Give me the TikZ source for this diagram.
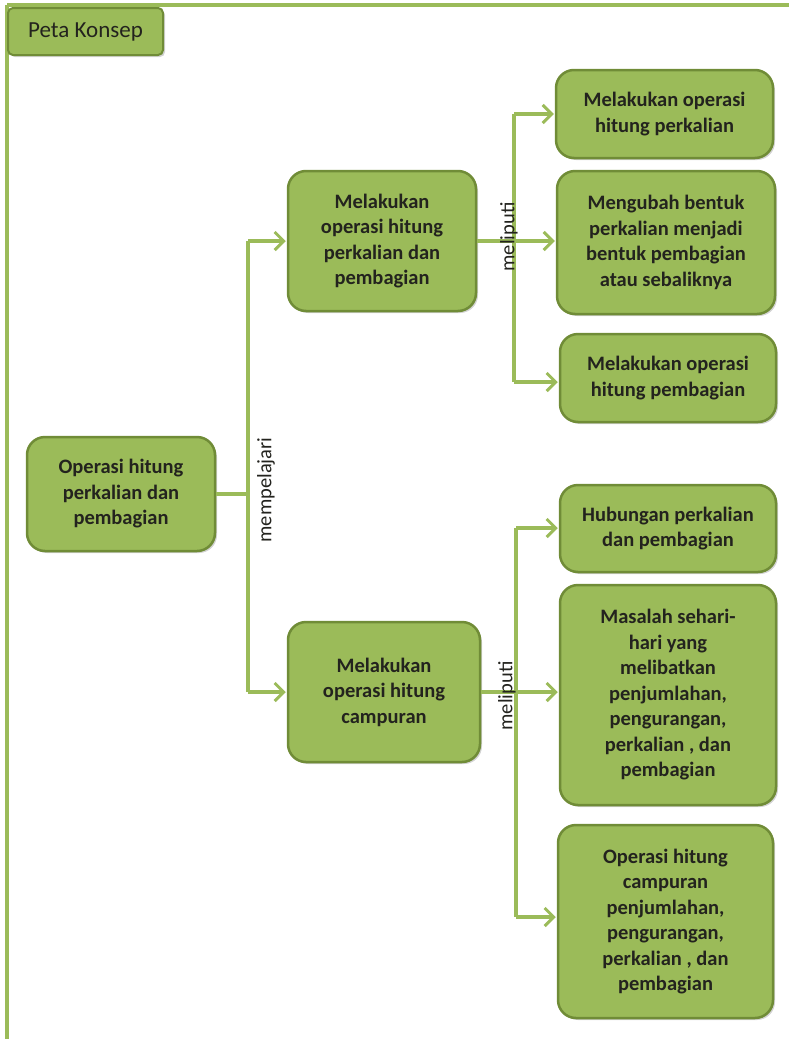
\documentclass[tikz,border=0pt]{standalone}
\usepackage{fontspec}
\setmainfont{Carlito}
\usetikzlibrary{arrows.meta, shadows}
\definecolor{konsepgreen}{RGB}{155,187,89}
\definecolor{konsepdark}{RGB}{112,140,55}
\definecolor{konseptext}{RGB}{35,35,30}
\tikzset{
  konsepbox/.style={rectangle, rounded corners=18pt, fill=konsepgreen, draw=konsepdark, line width=2.5pt,
    drop shadow={shadow xshift=2pt, shadow yshift=-2pt, opacity=0.35}, align=center,
    font=\fontsize{20.5}{25.5}\selectfont\bfseries, text=konseptext, inner sep=0pt},
  konsepline/.style={draw=konsepgreen, line width=4pt},
  konseparrow/.style={konsepline, -{Straight Barb[length=9pt, width=18pt, line width=3pt]}, shorten >=1pt},
  konseplabel/.style={rotate=90, font=\fontsize{20.5}{24}\selectfont, text=konseptext, inner sep=0pt}
}
\begin{document}
\begin{tikzpicture}[x=1pt, y=-1pt]
        \useasboundingbox (0,0) rectangle (789,1039);
        % Frame
        \draw[konsepline] (7,5) -- (789,5);
        \draw[konsepline] (7,5) -- (7,1039);
        \node[rectangle, rounded corners=5pt, fill=konsepgreen, draw=konsepdark, line width=2pt,
          drop shadow={shadow xshift=2pt, shadow yshift=-2pt, opacity=0.35},
          minimum width=155pt, minimum height=47pt, font=\fontsize{23}{26}\selectfont, text=konseptext]
          (tab) at (85.5,31.5) {Peta Konsep};

        % Draw nodes
        \node[konsepbox, minimum width=188pt, minimum height=114pt] (root) at (121,494) {Operasi hitung\\perkalian dan\\pembagian};
        \node[konsepbox, minimum width=188pt, minimum height=140pt] (b1) at (382,241) {Melakukan\\operasi hitung\\perkalian dan\\pembagian};
        \node[konsepbox, minimum width=192pt, minimum height=140pt] (b2) at (384,692) {Melakukan\\operasi hitung\\campuran};
        \node[konsepbox, minimum width=217pt, minimum height=88pt] (l1) at (664.5,114) {Melakukan operasi\\hitung perkalian};
        \node[konsepbox, minimum width=218pt, minimum height=143pt] (l2) at (666,242.5) {Mengubah bentuk\\perkalian menjadi\\bentuk pembagian\\atau sebaliknya};
        \node[konsepbox, minimum width=216pt, minimum height=88pt] (l3) at (668,378) {Melakukan operasi\\hitung pembagian};
        \node[konsepbox, minimum width=216pt, minimum height=87pt] (l4) at (668,528.5) {Hubungan perkalian\\dan pembagian};
        \node[konsepbox, minimum width=216pt, minimum height=220pt] (l5) at (668,695) {Masalah sehari-\\hari yang\\melibatkan\\penjumlahan,\\pengurangan,\\perkalian , dan\\pembagian};
        \node[konsepbox, minimum width=215pt, minimum height=193pt] (l6) at (665.5,921.5) {Operasi hitung\\campuran\\penjumlahan,\\pengurangan,\\perkalian , dan\\pembagian};

        % Junctions
        \coordinate (j0) at (248,494);
        \coordinate (j0a) at (248,241);
        \coordinate (j0b) at (248,692);
        \coordinate (j1) at (514,241);
        \coordinate (j1a) at (514,114);
        \coordinate (j1b) at (514,382);
        \coordinate (j2) at (516,692);
        \coordinate (j2a) at (516,528);
        \coordinate (j2b) at (516,917);

        % Draw connections
        \draw[konsepline] (root.east) -- (j0);
        \draw[konsepline] (j0a) -- (j0b);
        \draw[konseparrow] (j0a) -- (b1.west |- j0a);
        \draw[konseparrow] (j0b) -- (b2.west |- j0b);
        \draw[konsepline] (b1.east |- j1) -- (j1);
        \draw[konsepline] (j1a) -- (j1b);
        \draw[konseparrow] (j1a) -- (l1.west |- j1a);
        \draw[konseparrow] (j1) -- (l2.west |- j1);
        \draw[konseparrow] (j1b) -- (l3.west |- j1b);
        \draw[konsepline] (b2.east |- j2) -- (j2);
        \draw[konsepline] (j2a) -- (j2b);
        \draw[konseparrow] (j2a) -- (l4.west |- j2a);
        \draw[konseparrow] (j2) -- (l5.west |- j2);
        \draw[konseparrow] (j2b) -- (l6.west |- j2b);

        % Labels
        \node[konseplabel] (lblpel) at (266,490) {mempelajari};
        \node[konseplabel] (lblmel1) at (509,237) {meliputi};
        \node[konseplabel] (lblmel2) at (507,696) {meliputi};
\end{tikzpicture}
\end{document}
